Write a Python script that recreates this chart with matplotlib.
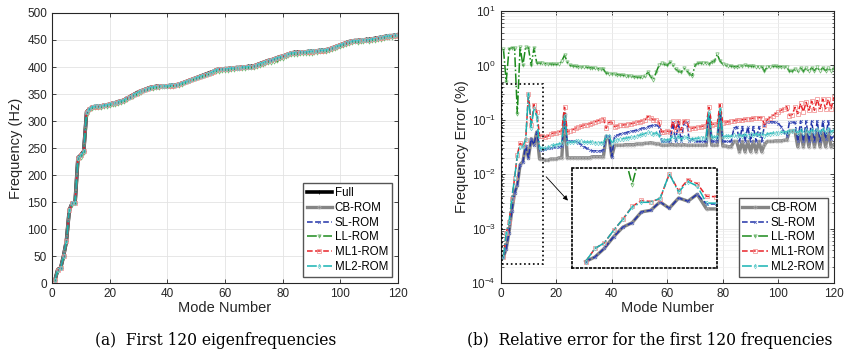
import matplotlib
matplotlib.use('Agg')
import matplotlib.pyplot as plt
import numpy as np
from matplotlib.patches import Rectangle
from matplotlib.ticker import NullLocator, LogLocator

plt.rc('font', family='Liberation Sans', size=8.5)
plt.rc('mathtext', default='regular')
plt.rc('axes', edgecolor='#262626', labelcolor='#262626')
plt.rc('xtick', color='#262626', direction='in', top=True)
plt.rc('ytick', color='#262626', direction='in', right=True)

# ---- data ----
modes = np.arange(1, 121)

freq_full = [5, 25, 28, 50, 78, 135, 148, 149, 232, 237,
             244, 317, 322, 326, 327, 327, 328, 329, 330, 331,
             333, 334, 336, 337, 339, 342, 345, 348, 351, 354,
             356, 358, 360, 362, 363, 364, 365, 365, 365, 365,
             366, 366, 367, 368, 370, 372, 374, 376, 378, 380,
             382, 384, 386, 388, 390, 392, 395, 396, 396, 397,
             397, 398, 398, 399, 399, 400, 400, 401, 401, 402,
             404, 406, 408, 410, 412, 413, 415, 417, 419, 420,
             422, 424, 426, 427, 427, 428, 428, 428, 429, 429,
             430, 430, 431, 431, 432, 433, 435, 437, 439, 441,
             443, 445, 447, 448, 449, 449, 450, 450, 451, 451,
             452, 453, 454, 455, 456, 457, 458, 458, 459, 460]

err_cb = [3e-4, 4.3e-4, 8.4e-4, 2.1e-3, 4.5e-3, 6.4e-3, 0.015, 0.017, 0.033, 0.02,
          0.045, 0.035, 0.06, 0.019, 0.019, 0.018, 0.018, 0.019, 0.019, 0.019,
          0.02, 0.02, 0.13, 0.02, 0.02, 0.02, 0.02, 0.02, 0.02, 0.02,
          0.02, 0.02, 0.021, 0.021, 0.021, 0.021, 0.021, 0.05, 0.048, 0.021,
          0.034, 0.034, 0.034, 0.034, 0.035, 0.035, 0.035, 0.035, 0.036, 0.036,
          0.036, 0.037, 0.037, 0.038, 0.037, 0.036, 0.036, 0.034, 0.034, 0.034,
          0.035, 0.035, 0.034, 0.035, 0.034, 0.035, 0.034, 0.034, 0.034, 0.034,
          0.034, 0.034, 0.034, 0.034, 0.12, 0.034, 0.034, 0.034, 0.14, 0.033,
          0.033, 0.032, 0.032, 0.04, 0.04, 0.026, 0.04, 0.026, 0.04, 0.026,
          0.04, 0.026, 0.04, 0.026, 0.035, 0.04, 0.04, 0.04, 0.041, 0.041,
          0.041, 0.042, 0.042, 0.062, 0.062, 0.062, 0.032, 0.062, 0.032, 0.062,
          0.032, 0.062, 0.032, 0.062, 0.032, 0.062, 0.032, 0.06, 0.032, 0.035]

err_sl = [3e-4, 4.3e-4, 8.4e-4, 2.1e-3, 4.5e-3, 6.4e-3, 0.015, 0.017, 0.033, 0.02,
          0.045, 0.035, 0.06, 0.028, 0.028, 0.029, 0.03, 0.03, 0.031, 0.032,
          0.032, 0.033, 0.09, 0.04, 0.041, 0.04, 0.04, 0.038, 0.035, 0.032,
          0.03, 0.028, 0.027, 0.027, 0.027, 0.027, 0.028, 0.05, 0.05, 0.021,
          0.05, 0.052, 0.055, 0.057, 0.058, 0.06, 0.062, 0.063, 0.065, 0.067,
          0.07, 0.072, 0.075, 0.078, 0.08, 0.08, 0.075, 0.04, 0.04, 0.04,
          0.04, 0.09, 0.04, 0.09, 0.04, 0.085, 0.09, 0.04, 0.045, 0.04,
          0.04, 0.04, 0.04, 0.04, 0.13, 0.04, 0.04, 0.04, 0.14, 0.04,
          0.04, 0.04, 0.04, 0.07, 0.075, 0.04, 0.075, 0.04, 0.075, 0.04,
          0.075, 0.04, 0.075, 0.04, 0.08, 0.09, 0.092, 0.092, 0.09, 0.085,
          0.075, 0.06, 0.05, 0.09, 0.09, 0.09, 0.04, 0.095, 0.04, 0.095,
          0.04, 0.095, 0.04, 0.095, 0.04, 0.095, 0.045, 0.095, 0.045, 0.05]

err_ll = [2.0, 0.5, 2.0, 2.1, 2.1, 0.13, 2.2, 1.0, 2.2, 2.1,
          1.0, 2.1, 1.1, 1.1, 1.1, 1.08, 1.07, 1.06, 1.05, 1.04,
          1.05, 1.2, 1.55, 1.15, 1.0, 0.98, 0.96, 0.95, 0.94, 0.93,
          0.92, 0.91, 0.9, 0.88, 0.87, 0.86, 0.85, 0.72, 0.71, 0.7,
          0.69, 0.68, 0.67, 0.66, 0.65, 0.64, 0.63, 0.62, 0.61, 0.6,
          0.61, 0.63, 0.75, 0.62, 0.55, 0.75, 1.0, 1.1, 1.05, 1.0,
          1.15, 1.0, 0.85, 0.78, 0.75, 0.88, 0.8, 0.7, 0.65, 1.0,
          1.1, 1.1, 1.1, 1.12, 1.05, 1.15, 1.2, 1.6, 1.2, 1.05,
          1.0, 0.98, 0.97, 0.95, 0.95, 0.97, 0.98, 1.0, 0.98, 0.97,
          0.96, 0.95, 0.95, 0.95, 0.78, 0.95, 0.95, 0.96, 0.96, 0.95,
          0.95, 0.94, 0.93, 0.78, 0.78, 0.85, 0.78, 0.9, 0.78, 0.9,
          0.78, 0.9, 0.8, 0.92, 0.8, 0.9, 0.8, 0.9, 0.8, 0.88]

err_ml1 = [3e-4, 8.4e-4, 1.3e-3, 3.5e-3, 8.4e-3, 0.023, 0.037, 0.034, 0.042, 0.3,
           0.08, 0.19, 0.14, 0.051, 0.05, 0.048, 0.05, 0.055, 0.057, 0.058,
           0.06, 0.063, 0.17, 0.06, 0.063, 0.066, 0.07, 0.073, 0.076, 0.08,
           0.082, 0.085, 0.088, 0.092, 0.096, 0.1, 0.105, 0.07, 0.09, 0.09,
           0.075, 0.078, 0.08, 0.08, 0.082, 0.083, 0.085, 0.087, 0.09, 0.093,
           0.097, 0.1, 0.115, 0.11, 0.1, 0.1, 0.09, 0.06, 0.06, 0.062,
           0.06, 0.095, 0.065, 0.095, 0.065, 0.095, 0.095, 0.068, 0.07, 0.072,
           0.074, 0.075, 0.077, 0.078, 0.17, 0.082, 0.084, 0.085, 0.19, 0.088,
           0.09, 0.092, 0.094, 0.096, 0.098, 0.1, 0.1, 0.102, 0.104, 0.105,
           0.107, 0.108, 0.11, 0.11, 0.082, 0.1, 0.11, 0.12, 0.13, 0.14,
           0.15, 0.16, 0.175, 0.12, 0.125, 0.17, 0.13, 0.2, 0.14, 0.21,
           0.15, 0.22, 0.15, 0.24, 0.16, 0.24, 0.16, 0.24, 0.16, 0.26]

err_ml2 = [3e-4, 8.4e-4, 1.3e-3, 3.5e-3, 8.4e-3, 0.022, 0.032, 0.032, 0.044, 0.3,
           0.072, 0.165, 0.115, 0.03, 0.03, 0.03, 0.031, 0.033, 0.034, 0.035,
           0.036, 0.037, 0.12, 0.038, 0.039, 0.039, 0.04, 0.04, 0.04, 0.039,
           0.039, 0.039, 0.039, 0.038, 0.038, 0.038, 0.038, 0.05, 0.05, 0.038,
           0.042, 0.043, 0.044, 0.045, 0.046, 0.047, 0.048, 0.049, 0.05, 0.052,
           0.054, 0.056, 0.06, 0.058, 0.055, 0.058, 0.052, 0.042, 0.043, 0.043,
           0.044, 0.05, 0.044, 0.05, 0.044, 0.048, 0.048, 0.044, 0.045, 0.045,
           0.046, 0.046, 0.047, 0.047, 0.14, 0.048, 0.048, 0.049, 0.16, 0.049,
           0.05, 0.05, 0.05, 0.052, 0.05, 0.053, 0.05, 0.054, 0.05, 0.055,
           0.052, 0.056, 0.052, 0.057, 0.05, 0.055, 0.056, 0.057, 0.058, 0.058,
           0.059, 0.06, 0.06, 0.062, 0.063, 0.065, 0.058, 0.065, 0.058, 0.066,
           0.058, 0.066, 0.059, 0.067, 0.06, 0.067, 0.06, 0.068, 0.06, 0.065]

rom_names = ['CB-ROM', 'SL-ROM', 'LL-ROM', 'ML1-ROM', 'ML2-ROM']
rom_errors = [err_cb, err_sl, err_ll, err_ml1, err_ml2]

# ---- styles ----
full_style = dict(color='k', lw=2.6, marker='+', ms=2.5, mew=0.5)
rom_styles = [
    dict(color='#858585', lw=2.4, ls='-', marker='o', ms=2.2, mfc='none', mec='#b0b0b0', mew=0.5),
    dict(color='#2233a8', lw=1.1, ls='--', marker='x', ms=2.0, mec='#5060c0', mew=0.5),
    dict(color='#1c8a1c', lw=1.1, ls='-.', marker='v', ms=2.4, mfc='none', mec='#70b870', mew=0.5),
    dict(color='#e8242a', lw=1.1, ls='--', marker='s', ms=2.2, mfc='none', mec='#f08a8a', mew=0.5),
    dict(color='#17b3b3', lw=1.1, ls='-.', marker='d', ms=2.4, mfc='none', mec='#70d0d0', mew=0.5),
]
legend_kw = dict(loc='lower right', fontsize=8.3, fancybox=False, framealpha=1,
                 edgecolor='#555555', borderaxespad=0.55, handlelength=2.2,
                 labelspacing=0.25, borderpad=0.3, handletextpad=0.25)

fig = plt.figure(figsize=(8.61, 3.61), dpi=100)
ax1 = fig.add_axes([0.0604, 0.216, 0.4019, 0.748])
ax2 = fig.add_axes([0.5815, 0.216, 0.387, 0.7535])

# ---- (a) eigenfrequencies ----
freq_full = np.array(freq_full, dtype=float)
ax1.plot(modes, freq_full, label='Full', **full_style)
for name, err, st in zip(rom_names, rom_errors, rom_styles):
    ax1.plot(modes, freq_full * (1 - np.array(err) / 100.0), label=name, **st)
ax1.set_xlim(0, 120)
ax1.set_ylim(0, 500)
ax1.set_xticks(range(0, 121, 20))
ax1.set_yticks(range(0, 501, 50))
ax1.set_xlabel('Mode Number', fontsize=10.5, labelpad=1)
ax1.set_ylabel('Frequency (Hz)', fontsize=10.5, labelpad=3)
ax1.grid(True, color='#e3e3e3', lw=0.6)
ax1.set_axisbelow(True)
ax1.tick_params(length=3, width=0.6, labelsize=8.5)
ax1.legend(**legend_kw)

# ---- (b) relative error ----
for name, err, st in zip(rom_names, rom_errors, rom_styles):
    ax2.plot(modes, err, label=name, **st)
ax2.set_yscale('log')
ax2.set_xlim(0, 120)
ax2.set_ylim(1e-4, 1e1)
ax2.set_xticks(range(0, 121, 20))
ax2.yaxis.set_major_locator(LogLocator(base=10, numticks=10))
ax2.yaxis.set_minor_locator(LogLocator(base=10, subs=np.arange(2, 10), numticks=20))
ax2.set_xlabel('Mode Number', fontsize=10.5, labelpad=1)
ax2.set_ylabel('Frequency Error (%)', fontsize=10.5, labelpad=2)
ax2.grid(True, which='major', color='#e3e3e3', lw=0.6)
ax2.grid(True, which='minor', axis='y', color='#eeeeee', lw=0.5)
ax2.set_axisbelow(True)
ax2.tick_params(which='major', length=3, width=0.6, labelsize=8.5)
ax2.tick_params(which='minor', length=1.8, width=0.5)
ax2.legend(**legend_kw)

# zoom box and arrow
ax2.add_patch(Rectangle((0.4, 2.2e-4), 14.9, 0.45 - 2.2e-4, fill=False,
                        ls=':', lw=1.2, ec='k', zorder=5))
ax2.annotate('', xy=(24.9, 3.0e-3), xytext=(15.7, 0.0098),
             arrowprops=dict(arrowstyle='-|>', lw=0.6, color='k', mutation_scale=7))

# inset
axin = fig.add_axes([0.664, 0.257, 0.169, 0.277])
for err, st in zip(rom_errors, rom_styles):
    axin.plot(modes[:15], err[:15], **st)
axin.set_yscale('log')
axin.set_xlim(-0.5, 15.15)
axin.set_ylim(1.77e-4, 0.47)
axin.set_xticks([])
axin.set_yticks([])
axin.yaxis.set_minor_locator(NullLocator())
axin.tick_params(which='both', left=False, right=False, top=False, bottom=False)
for s in axin.spines.values():
    s.set_linestyle(':')
    s.set_linewidth(1.2)
    s.set_color('k')

# captions
fig.text(0.250, 0.058, '(a)  First 120 eigenfrequencies', ha='center', va='center',
         family='DejaVu Serif', fontsize=11.2)
fig.text(0.754, 0.058, '(b)  Relative error for the first 120 frequencies', ha='center',
         va='center', family='DejaVu Serif', fontsize=11.2)

fig.savefig('out.png', dpi=100)
